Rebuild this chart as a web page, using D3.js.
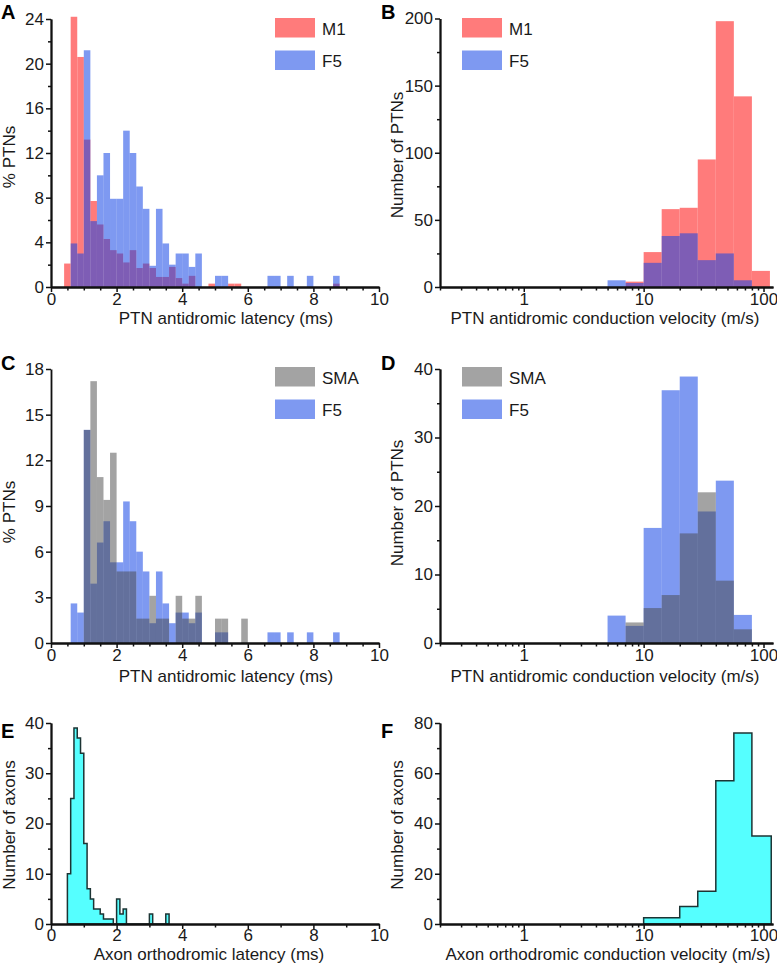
<!DOCTYPE html>
<html><head><meta charset="utf-8">
<script src="https://cdn.jsdelivr.net/npm/d3@7"></script>
<style>
body{margin:0;background:#fff}
text{font-family:"Liberation Sans",Arial,Helvetica,sans-serif}
</style>
</head><body>
<svg id="c" width="777" height="964"></svg>
<script>
// ---------- DATA ----------
// latency bins (ms), panels A and C
const latEdges = [0.4,0.6,0.8,1.0,1.2,1.4,1.6,1.8,2.0,2.2,2.4,2.6,2.8,3.0,3.2,3.4,3.6,3.8,4.0,4.2,4.4,4.6,4.8,5.0,5.2,5.4,5.6,5.8,6.0,6.2,6.4,6.6,6.8,7.0,7.2,7.4,7.6,7.8,8.0,8.2,8.4,8.6,8.8];
// Panel A (% PTNs)
const aM1 = [2.1,24.2,20.6,13.2,7.7,5.6,4.3,3.3,3.0,2.2,3.3,1.7,2.1,1.7,0.9,0.9,1.8,0.8,0.3,1.0,0,
             0,0.3,0,0,0.3,0.3,0,0,0,0,0,0,0,0,0,0,0,0,0,0,0.3];
const aF5 = [0,3.9,3.0,21.2,5.9,10.0,12.0,7.9,7.9,14.0,12.0,9.0,7.0,1.9,7.0,3.9,2.0,3.0,3.0,1.8,3.0,
             0,0,1.0,1.0,0,0,0,0,0,0,1.0,1.0,0,1.0,0,0,1.0,0,0,0,1.0];
// Panel C (% PTNs)
const cF5 = [0,2.6,2.0,14.0,3.9,6.6,8.0,5.3,5.3,9.3,8.0,6.0,4.7,1.3,4.7,2.6,1.3,2.0,2.0,1.3,2.0,
             0,0,0.7,0.7,0,0,0,0,0,0,0.7,0.7,0,0.7,0,0,0.7,0,0,0,0.7];
const cSMA = [0,0,0,14.0,17.2,10.9,9.4,12.5,4.7,4.7,4.7,1.6,1.6,3.1,1.6,1.6,0,3.1,1.6,1.6,3.1,
              0,0,1.6,1.6,0,0,1.6,0,0,0,0,0,0,0,0,0,0,0,0,0,0];
// conduction velocity bins (m/s), panels B and D
const cvEdges = [5,7.07,10,14.14,20,28.28,40,56.57,80,113.1];
const bM1 = [0,4,26,58,59,95,198,142,12];
const bF5 = [5,3,18,38,40,20,25,5,0];
const dF5 = [4,2.5,16.8,36.9,38.9,19.2,23.7,4.1,0];
const dSMA = [0,3,5.1,7.0,16.0,22.0,9.1,2,0];
// Panel E: orthodromic latency (ms)
const eEdges = [0.5,0.6,0.7,0.8,0.9,1.0,1.1,1.2,1.3,1.4,1.5,1.6,1.7,1.8,1.9,2.0,2.1,2.2,2.3,2.4,2.5,2.6,2.7,2.8,2.9,3.0,3.1,3.2,3.3,3.4,3.5,3.6];
const eVals = [10,25,39,37,34,16,7,5,3,3,2,1,1,1,0,5,2,3,0,0,0,0,0,0,0,2,0,0,0,0,2];
// Panel F: orthodromic conduction velocity (m/s)
const fEdges = [10,20,28.28,40,56.57,80,116];
const fVals = [2.5,7,13,57,76,35];
// ticks
const latMajor = [0,2,4,6,8,10];
const latMinorA = [0.5,1,1.5,2.5,3,3.5,4.5,5,5.5,6.5,7,7.5,8.5,9,9.5];
const latMinorE = [1,3,5,7,9];
const logMajor = [1,10,100];
const logMinor = [0.2,0.3,0.4,0.5,0.6,0.7,0.8,0.9,2,3,4,5,6,7,8,9,20,30,40,50,60,70,80,90];
const aYMajor=[0,4,8,12,16,20,24], aYMinor=[2,6,10,14,18,22];
const bYMajor=[0,50,100,150,200], bYMinor=[25,75,125,175];
const cYMajor=[0,3,6,9,12,15,18];
const dYMajor=[0,10,20,30,40], dYMinor=[5,15,25,35];
const eYMajor=[0,10,20,30,40], eYMinor=[5,15,25,35];
const fYMajor=[0,20,40,60,80], fYMinor=[10,30,50,70];

// ---------- STYLE ----------
const RED = "#ff7b7b";
const BLUE = "rgb(20,70,230)", BLUE_OP = 0.55;
const GRAY = "#474747", GRAY_OP = 0.5;
const CYAN = "#55ffff", CYAN_STROKE = "#1c3434";
const FS = 17;

const svg = d3.select("#c");

function styleAxis(g){
  g.selectAll("text").attr("font-size",FS).attr("font-family",'"Liberation Sans",Arial,sans-serif').attr("fill","#1a1a1a");
  g.selectAll("line").attr("stroke","#111").attr("stroke-width",1.5);
  g.select(".domain").attr("stroke","#111").attr("stroke-width",1.8);
}
function yAxis(sc, xPos, major, minor){
  if(minor && minor.length){
    const gm = svg.append("g").attr("transform",`translate(${xPos},0)`)
      .call(d3.axisLeft(sc).tickValues(minor).tickSize(3).tickFormat("").tickSizeOuter(0));
    styleAxis(gm);
  }
  const g = svg.append("g").attr("transform",`translate(${xPos},0)`)
    .call(d3.axisLeft(sc).tickValues(major).tickSize(5).tickPadding(2).tickSizeOuter(0).tickFormat(d3.format("d")));
  styleAxis(g);
}
function xAxis(sc, yPos, major, minor, pad){
  if(minor && minor.length){
    const gm = svg.append("g").attr("transform",`translate(0,${yPos})`)
      .call(d3.axisBottom(sc).tickValues(minor).tickSize(3.5).tickFormat("").tickSizeOuter(0));
    styleAxis(gm);
  }
  const g = svg.append("g").attr("transform",`translate(0,${yPos})`)
    .call(d3.axisBottom(sc).tickValues(major).tickSize(5).tickPadding(pad==null?1:pad).tickSizeOuter(0).tickFormat(d3.format("d")));
  styleAxis(g);
}
function bars(x, y, edges, vals, fill, op){
  const data = vals.map((v,i)=>({x0:edges[i], x1:edges[i+1], v})).filter(d=>d.v>0);
  svg.append("g").selectAll("rect").data(data).join("rect")
    .attr("x",d=>x(d.x0)).attr("width",d=>x(d.x1)-x(d.x0))
    .attr("y",d=>y(d.v)).attr("height",d=>y(0)-y(d.v))
    .attr("fill",fill).attr("fill-opacity",op);
}
function stepArea(x, y, edges, vals){
  const pts = vals.map((v,i)=>({x:edges[i], v}));
  pts.push({x:edges[edges.length-1], v:vals[vals.length-1]});
  const area = d3.area().x(d=>x(d.x)).y0(y(0)).y1(d=>y(d.v)).curve(d3.curveStepAfter);
  svg.append("path").datum(pts).attr("d",area)
    .attr("fill",CYAN).attr("stroke",CYAN_STROKE).attr("stroke-width",1.5).attr("stroke-linejoin","miter");
}
function legend(x, y0, items){
  items.forEach((it,i)=>{
    const yy = y0 + i*32.5;
    svg.append("rect").attr("x",x).attr("y",yy).attr("width",40).attr("height",19.5)
      .attr("fill",it.fill).attr("fill-opacity",it.op);
    svg.append("text").attr("x",x+47).attr("y",yy+16.5).attr("font-size",FS).attr("fill","#1a1a1a").text(it.label);
  });
}
function title(x, y, t){
  svg.append("text").attr("x",x).attr("y",y).attr("text-anchor","middle").attr("font-size",FS).attr("fill","#1a1a1a").text(t);
}
function ytitle(bx, cy, t){
  svg.append("text").attr("transform",`translate(${bx},${cy}) rotate(-90)`).attr("text-anchor","middle")
    .attr("font-size",FS).attr("fill","#1a1a1a").text(t);
}
function letter(x, y, t){
  svg.append("text").attr("x",x).attr("y",y).attr("font-size",20).attr("font-weight","bold").attr("fill","#000").text(t);
}

// ---------- PANEL A ----------
{
  const x = d3.scaleLinear().domain([0,10]).range([51,379]);
  const y = d3.scaleLinear().domain([0,24]).range([287,19]);
  bars(x,y,latEdges,aM1,RED,1);
  bars(x,y,latEdges,aF5,BLUE,BLUE_OP);
  xAxis(x,287,latMajor,latMinorA);
  yAxis(y,51,aYMajor,aYMinor);
  legend(275,18,[{label:"M1",fill:RED,op:1},{label:"F5",fill:BLUE,op:BLUE_OP}]);
  title(226,324,"PTN antidromic latency (ms)");
  ytitle(15,157,"% PTNs");
  letter(1,19,"A");
}
// ---------- PANEL B ----------
{
  const x = d3.scaleLog().domain([0.2,120]).range([440,773]);
  const y = d3.scaleLinear().domain([0,200]).range([287,18.5]);
  bars(x,y,cvEdges,bM1,RED,1);
  bars(x,y,cvEdges,bF5,BLUE,BLUE_OP);
  xAxis(x,287,logMajor,logMinor);
  yAxis(y,440,bYMajor,bYMinor);
  legend(462,18,[{label:"M1",fill:RED,op:1},{label:"F5",fill:BLUE,op:BLUE_OP}]);
  title(605,324,"PTN antidromic conduction velocity (m/s)");
  ytitle(403,155,"Number of PTNs");
  letter(381,19,"B");
}
// ---------- PANEL C ----------
{
  const x = d3.scaleLinear().domain([0,10]).range([51,379]);
  const y = d3.scaleLinear().domain([0,18]).range([643,369]);
  bars(x,y,latEdges,cF5,BLUE,BLUE_OP);
  bars(x,y,latEdges,cSMA,GRAY,GRAY_OP);
  xAxis(x,643,latMajor,latMinorA);
  yAxis(y,51,cYMajor,[]);
  legend(275,367,[{label:"SMA",fill:"#a3a3a3",op:1},{label:"F5",fill:BLUE,op:BLUE_OP}]);
  title(226,682,"PTN antidromic latency (ms)");
  ytitle(15,512,"% PTNs");
  letter(1,370,"C");
}
// ---------- PANEL D ----------
{
  const x = d3.scaleLog().domain([0.2,120]).range([440,773]);
  const y = d3.scaleLinear().domain([0,40]).range([643,369]);
  bars(x,y,cvEdges,dF5,BLUE,BLUE_OP);
  bars(x,y,cvEdges,dSMA,GRAY,GRAY_OP);
  xAxis(x,643,logMajor,logMinor);
  yAxis(y,440,dYMajor,dYMinor);
  legend(462,367,[{label:"SMA",fill:"#a3a3a3",op:1},{label:"F5",fill:BLUE,op:BLUE_OP}]);
  title(605,682,"PTN antidromic conduction velocity (m/s)");
  ytitle(403,503,"Number of PTNs");
  letter(381,370,"D");
}
// ---------- PANEL E ----------
{
  const x = d3.scaleLinear().domain([0,10]).range([51,379]);
  const y = d3.scaleLinear().domain([0,40]).range([924,723]);
  stepArea(x,y,eEdges,eVals);
  xAxis(x,924,latMajor,latMinorE,0);
  yAxis(y,51,eYMajor,eYMinor);
  title(209,960,"Axon orthodromic latency (ms)");
  ytitle(15,825,"Number of axons");
  letter(1,738,"E");
}
// ---------- PANEL F ----------
{
  const x = d3.scaleLog().domain([0.2,120]).range([440,773]);
  const y = d3.scaleLinear().domain([0,80]).range([924,723]);
  stepArea(x,y,fEdges,fVals);
  xAxis(x,924,logMajor,logMinor,0);
  yAxis(y,440,fYMajor,fYMinor);
  title(608,960,"Axon orthodromic conduction velocity (m/s)");
  ytitle(403,825,"Number of axons");
  letter(381,738,"F");
}
</script>
</body></html>
